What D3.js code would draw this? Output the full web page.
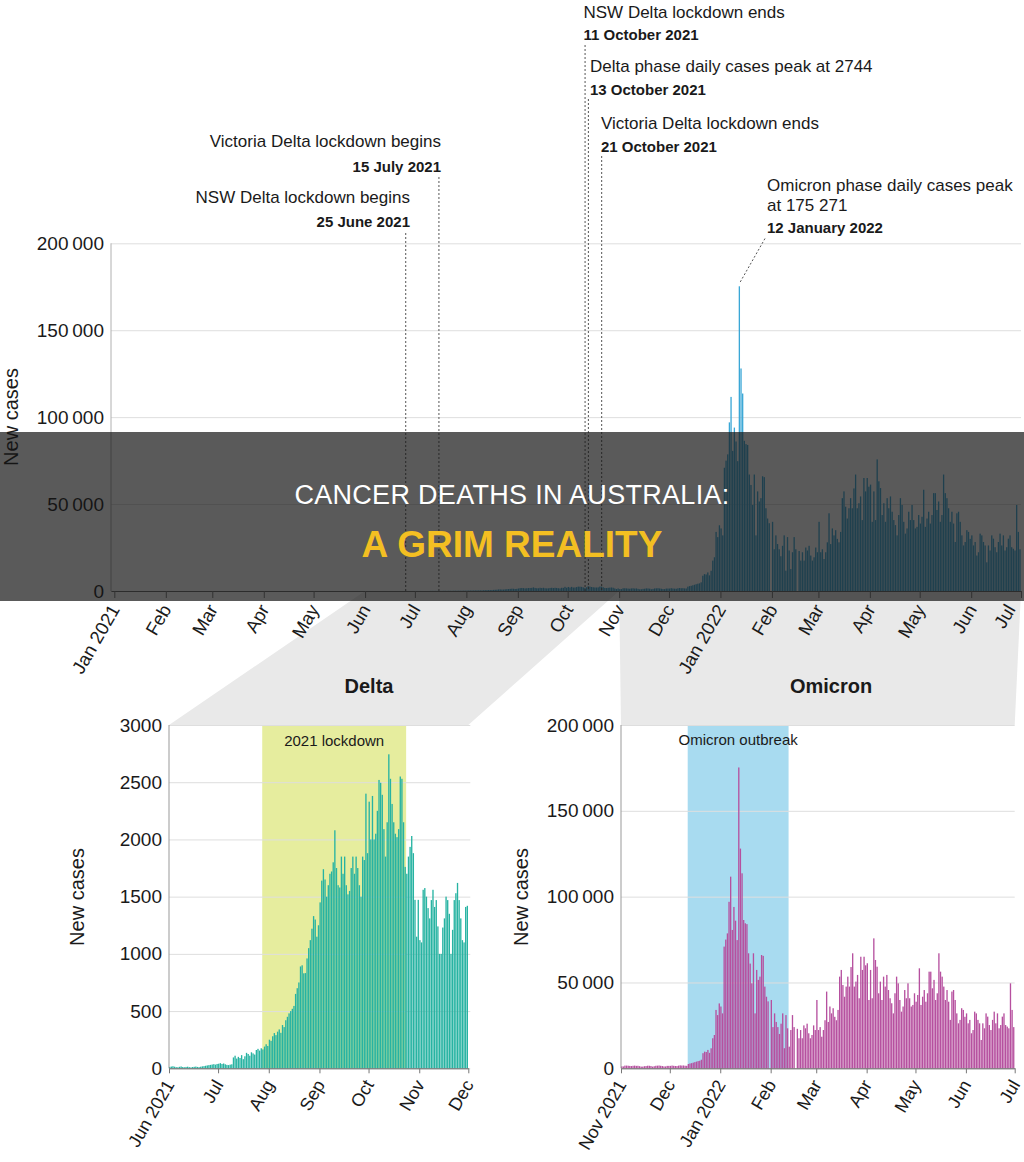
<!DOCTYPE html>
<html><head><meta charset="utf-8">
<script src="https://cdn.jsdelivr.net/npm/d3@7"></script>
<style>
body{margin:0;background:#fff}
svg{display:block}
text{font-family:"Liberation Sans",Arial,Helvetica,sans-serif}
</style>
</head><body>
<svg id="chart" width="1024" height="1162"></svg>
<script>
// ---------------- DATA ----------------
const seriesStart = "2021-01-01";
// Daily new cases, 1 Jan 2021 - 31 May 2021
const casesJanMay2021 = [
 12,9,14,8,6,10,7,9,11,5,8,6,10,7,5,9,6,8,4,7,5,6,8,4,6,5,7,3,6,5,4,
 6,4,7,5,9,6,4,5,3,6,8,12,9,7,5,6,4,5,7,3,6,4,5,8,6,4,3,5,
 6,5,7,4,9,6,8,5,7,10,6,8,12,9,7,11,8,10,13,9,7,11,14,10,12,9,15,11,13,17,12,
 10,14,9,12,8,11,13,9,7,10,12,8,6,9,11,7,10,13,8,6,9,11,14,10,7,9,12,8,10,13,
 9,11,7,10,13,8,12,9,6,11,14,10,8,12,9,7,10,13,11,8,6,9,12,15,18,14,22,16,20,13,17
];
// Daily new cases, 1 Jun 2021 - 30 Nov 2021 (Delta)
const casesDelta = [
 12,15,18,14,10,9,13,16,11,9,12,14,10,8,11,13,15,12,10,14,17,19,22,25,28,30,33,36,32,38,
 40,45,38,42,35,30,28,32,35,95,110,85,100,90,115,80,105,135,125,110,140,130,120,160,170,155,175,165,190,210,195,
 250,240,280,308,290,320,340,310,378,360,420,450,480,500,520,545,650,700,750,890,900,830,832,960,1050,1120,1220,1330,1300,1150,1250,
 1450,1640,1740,1650,1500,1600,1700,1720,1800,2080,1750,1600,1580,1850,1700,1850,1600,1520,1550,1750,1850,1700,1850,1750,1600,1500,1850,1820,2400,1880,
 2330,2000,2380,2000,2050,2250,2520,2495,2390,2090,1850,2150,2744,2530,2310,2150,2050,2020,2090,2550,2530,2150,1760,1700,1850,1935,2030,1880,1472,1150,1472,
 1120,1100,1560,1575,1500,1400,1310,1470,1560,1410,1470,1240,1000,1000,1230,1310,1500,1470,1350,1000,1210,1470,1530,1620,1470,1310,1120,1100,1410,1420
];
// Daily new cases, 1 Dec 2021 - 30 Jun 2022 (Omicron)
const casesOmicron = [
 1420,1600,1450,1350,1300,1550,1700,1600,1650,1500,1450,2500,2800,3000,3300,3600,3900,4200,4400,5000,8800,9700,9500,10700,9000,11650,17500,19400,34000,31000,37800,
 36000,32000,70900,75000,78600,97000,111650,80600,94000,86000,74700,175271,128000,113600,86400,84500,84000,67000,61000,49500,67000,32000,57300,51500,53400,66000,65500,47600,41700,39000,0,
 39800,24000,32000,27000,24000,20000,26000,32000,11700,31000,23300,12600,22300,31000,24000,0,23000,17500,22300,17500,25000,23300,26000,20400,17500,19400,25000,22300,
 39800,22300,24000,18400,22300,28000,44700,27000,36000,32000,35000,30000,28000,34000,53400,57300,48500,41700,47600,53400,47600,59000,67000,47600,50500,54400,40800,65000,57300,65000,60000,
 61200,39800,57300,40800,75700,63100,59200,43700,50500,39800,53400,47600,54400,45600,40800,37900,32000,43700,53400,49500,39800,33000,36000,45600,40800,49500,40800,36000,36900,43700,
 38800,42700,58250,36900,41700,45600,38800,43700,56300,56300,46600,51500,39800,43700,67000,56300,53400,47600,39800,45600,38800,28200,44700,45600,39800,32000,26200,28200,35000,34000,30000,
 32000,26200,28200,20400,22300,33000,32000,28200,26200,16500,26200,23300,32000,30100,25200,22300,28200,33000,26200,32000,23300,25200,30100,32000,25200,24300,23300,49500,34000,24000
];

const mainTickLabels = ["Jan 2021","Feb","Mar","Apr","May","Jun","Jul","Aug","Sep","Oct","Nov","Dec","Jan 2022","Feb","Mar","Apr","May","Jun","Jul"];
const deltaTickLabels = ["Jun 2021","Jul","Aug","Sep","Oct","Nov","Dec"];
const omicronTickLabels = ["Nov 2021","Dec","Jan 2022","Feb","Mar","Apr","May","Jun","Jul"];

const mainYTicks = [0,50000,100000,150000,200000];
const mainYTickLabels = ["0","50\u2009000","100\u2009000","150\u2009000","200\u2009000"];
const deltaYTicks = [0,500,1000,1500,2000,2500,3000];
const deltaYTickLabels = ["0","500","1000","1500","2000","2500","3000"];
const omicronYTicks = [0,50000,100000,150000,200000];
const omicronYTickLabels = ["0","50\u2009000","100\u2009000","150\u2009000","200\u2009000"];

const eventDates = ["2021-06-25","2021-07-15","2021-10-11","2021-10-13","2021-10-21","2022-01-12"];
const eventTitles = [
 ["NSW Delta lockdown begins"],
 ["Victoria Delta lockdown begins"],
 ["NSW Delta lockdown ends"],
 ["Delta phase daily cases peak at 2744"],
 ["Victoria Delta lockdown ends"],
 ["Omicron phase daily cases peak","at 175 271"]
];
const eventDateLabels = ["25 June 2021","15 July 2021","11 October 2021","13 October 2021","21 October 2021","12 January 2022"];

const panelTitles = ["Delta","Omicron"];
const deltaBand = ["2021-07-28","2021-10-24"];
const deltaBandLabel = "2021 lockdown";
const omicronBand = ["2021-12-12","2022-02-12"];
const omicronBandLabel = "Omicron outbreak";
const yAxisTitle = "New cases";
const bannerLines = ["CANCER DEATHS IN AUSTRALIA:","A GRIM REALITY"];

// ---------------- LAYOUT ----------------
const parse = d3.utcParse("%Y-%m-%d");
const start = parse(seriesStart);
const allCases = casesJanMay2021.concat(casesDelta, casesOmicron);
const series = allCases.map((v,i)=>({date:d3.utcDay.offset(start,i), value:v}));

const svg = d3.select("#chart");
const FS_TICK = 19;

const M = {x0:111, x1:1021, y0:591, y1:243.3};
const D = {x0:169, x1:468.3, y0:1068.3, y1:725};
const O = {x0:621, x1:1014.7, y0:1068.3, y1:725};

const xMain = d3.scaleUtc().domain([parse("2020-12-30"), parse("2022-07-01")]).range([M.x0, M.x1]);
const yMain = d3.scaleLinear().domain([0,200000]).range([M.y0, M.y1]);
const xDel = d3.scaleUtc().domain([parse("2021-06-01"), parse("2021-12-01")]).range([D.x0, D.x1]);
const yDel = d3.scaleLinear().domain([0,3000]).range([D.y0, D.y1]);
const xOmi = d3.scaleUtc().domain([parse("2021-11-01"), parse("2022-07-01")]).range([O.x0, O.x1]);
const yOmi = d3.scaleLinear().domain([0,200000]).range([O.y0, O.y1]);

// ---- zoom connectors (behind everything) ----
const conn = svg.append("g");
conn.append("path").attr("fill","#e9e9e9").attr("d", d3.line()([
  [xMain(parse("2021-06-01")), M.y0], [xMain(parse("2021-11-01")), M.y0],
  [D.x1, D.y1], [D.x0, D.y1]]) + "Z");
conn.append("path").attr("fill","#e9e9e9").attr("d", d3.line()([
  [xMain(parse("2021-11-01")), M.y0], [xMain(parse("2022-07-01")), M.y0],
  [O.x1, O.y1], [O.x0, O.y1]]) + "Z");

function yAxisGrid(g, y, x0, x1, ticks, labels) {
  const a = g.append("g").attr("transform",`translate(${x0},0)`)
    .call(d3.axisLeft(y).tickValues(ticks).tickSize(-(x1-x0)).tickPadding(7)
      .tickFormat((d,i)=>labels[i]));
  a.select(".domain").remove();
  a.selectAll(".tick line").attr("stroke","#dedede");
  a.selectAll(".tick text").attr("font-size",FS_TICK).attr("fill","#1a1a1a");
  return a;
}
function xAxis(g, x, y0, labels, fs, tickLen, maxX) {
  const dom = x.domain();
  const dates = d3.utcMonth.range(d3.utcMonth.ceil(dom[0]), d3.utcDay.offset(dom[1],1));
  const a = g.append("g").attr("transform",`translate(0,${y0})`)
    .call(d3.axisBottom(x).tickValues(dates).tickSize(tickLen).tickSizeOuter(0)
      .tickFormat((d,i)=>labels[i]));
  a.select(".domain").attr("stroke","#666");
  a.selectAll(".tick line").attr("stroke","#777");
  a.selectAll(".tick text").attr("font-size",fs).attr("fill","#1a1a1a")
    .attr("text-anchor","end").attr("y",0).attr("dy","0.35em")
    .attr("transform",(d)=>{
      const shift = maxX ? Math.min(0, maxX - x(d) - 14) : 0;
      return `translate(${shift},${tickLen+8}) rotate(-60)`;
    });
  return a;
}
function yTitle(g, x, y) {
  g.append("text").attr("transform",`translate(${x},${y}) rotate(-90)`)
    .attr("text-anchor","middle").attr("dy","0.35em").attr("font-size",20)
    .attr("fill","#1a1a1a").text(yAxisTitle);
}
function bars(g, data, x, y, color, gap) {
  g.append("g").selectAll("rect").data(data).join("rect")
    .attr("x", d=>x(d.date))
    .attr("width", d=>Math.max(0.4, x(d3.utcDay.offset(d.date,1)) - x(d.date) - gap))
    .attr("y", d=>y(d.value))
    .attr("height", d=>y(0)-y(d.value))
    .attr("fill", color);
}

// ---------------- MAIN CHART ----------------
const gm = svg.append("g");
yAxisGrid(gm, yMain, M.x0, M.x1, mainYTicks, mainYTickLabels);
gm.append("line").attr("x1",M.x0).attr("x2",M.x0).attr("y1",M.y1).attr("y2",M.y0).attr("stroke","#b0b0b0");
yTitle(gm, 11, 417);

// event annotations
const annLayout = [
 {anchor:"end",   tx:410,   ys:[203], yd:227,   top:233},
 {anchor:"end",   tx:441,   ys:[147], yd:171.5, top:177},
 {anchor:"start", tx:583.5, ys:[18],  yd:40,    top:45},
 {anchor:"start", tx:590,   ys:[72],  yd:94.5,  top:99},
 {anchor:"start", tx:601,   ys:[129], yd:151.5, top:156},
 {anchor:"start", tx:767,   ys:[190.5,211], yd:233.3, top:238.5, leader:true}
];
const ga = svg.append("g");
eventDates.forEach((ds,i)=>{
  const L = annLayout[i];
  const ex = xMain(parse(ds)) + 0.8;
  if (L.leader) {
    const v = series.find(d=>+d.date===+parse(ds)).value;
    ga.append("line").attr("x1",765).attr("y1",L.top).attr("x2",ex).attr("y2",yMain(v)-3)
      .attr("stroke","#555").attr("stroke-dasharray","2,2");
  } else {
    ga.append("line").attr("x1",ex).attr("x2",ex).attr("y1",L.top).attr("y2",M.y0)
      .attr("stroke","#555").attr("stroke-dasharray","2,2");
  }
  eventTitles[i].forEach((t,j)=>{
    ga.append("text").attr("x",L.tx).attr("y",L.ys[j]).attr("text-anchor",L.anchor)
      .attr("font-size",17).attr("fill","#1a1a1a").text(t);
  });
  ga.append("text").attr("x",L.tx).attr("y",L.yd).attr("text-anchor",L.anchor)
    .attr("font-size",15).attr("font-weight","bold").attr("fill","#1a1a1a").text(eventDateLabels[i]);
});

bars(gm, series, xMain, yMain, "#3aa7d6", 0.35);
xAxis(gm, xMain, M.y0, mainTickLabels, 18.5, 7, 1024);

// ---------------- PANEL TITLES ----------------
svg.append("text").attr("x",369).attr("y",693).attr("text-anchor","middle")
  .attr("font-size",20).attr("font-weight","bold").attr("fill","#1a1a1a").text(panelTitles[0]);
svg.append("text").attr("x",831).attr("y",693).attr("text-anchor","middle")
  .attr("font-size",20).attr("font-weight","bold").attr("fill","#1a1a1a").text(panelTitles[1]);

// ---------------- DELTA ----------------
const gd = svg.append("g");
gd.append("rect").attr("x",D.x0).attr("y",D.y1).attr("width",D.x1-D.x0).attr("height",D.y0-D.y1).attr("fill","#fff");
gd.append("rect").attr("x",xDel(parse(deltaBand[0]))).attr("y",D.y1)
  .attr("width",xDel(parse(deltaBand[1]))-xDel(parse(deltaBand[0]))).attr("height",D.y0-D.y1)
  .attr("fill","#e6ed9e");
yAxisGrid(gd, yDel, D.x0, D.x1+2, deltaYTicks, deltaYTickLabels);
gd.append("text").attr("x",(xDel(parse(deltaBand[0]))+xDel(parse(deltaBand[1])))/2).attr("y",746)
  .attr("text-anchor","middle").attr("font-size",15).attr("fill","#1a1a1a").text(deltaBandLabel);
const delData = series.filter(d=>d.date>=parse("2021-06-01") && d.date<parse("2021-12-01"));
bars(gd, delData, xDel, yDel, "#27b3a2", 0.3);
gd.append("line").attr("x1",D.x0).attr("x2",D.x0).attr("y1",D.y1).attr("y2",D.y0).attr("stroke","#999");
xAxis(gd, xDel, D.y0, deltaTickLabels, 18, 5);
yTitle(gd, 77, 897);

// ---------------- OMICRON ----------------
const go = svg.append("g");
go.append("rect").attr("x",O.x0).attr("y",O.y1).attr("width",O.x1-O.x0).attr("height",O.y0-O.y1).attr("fill","#fff");
go.append("rect").attr("x",xOmi(parse(omicronBand[0]))).attr("y",O.y1)
  .attr("width",xOmi(parse(omicronBand[1]))-xOmi(parse(omicronBand[0]))).attr("height",O.y0-O.y1)
  .attr("fill","#a8dbf0");
yAxisGrid(go, yOmi, O.x0, O.x1, omicronYTicks, omicronYTickLabels);
go.append("text").attr("x",(xOmi(parse(omicronBand[0]))+xOmi(parse(omicronBand[1])))/2).attr("y",745)
  .attr("text-anchor","middle").attr("font-size",15).attr("fill","#1a1a1a").text(omicronBandLabel);
const omiData = series.filter(d=>d.date>=parse("2021-11-01") && d.date<parse("2022-07-01"));
bars(go, omiData, xOmi, yOmi, "#b6509f", 0.3);
go.append("line").attr("x1",O.x0).attr("x2",O.x0).attr("y1",O.y1).attr("y2",O.y0).attr("stroke","#999");
xAxis(go, xOmi, O.y0, omicronTickLabels, 18, 5);
yTitle(go, 521, 897);

// ---------------- BANNER OVERLAY ----------------
const gb = svg.append("g");
gb.append("rect").attr("x",0).attr("y",432).attr("width",1024).attr("height",169)
  .attr("fill","rgb(20,20,20)").attr("fill-opacity",0.7);
gb.append("text").attr("x",512).attr("y",504).attr("text-anchor","middle")
  .attr("font-size",27).attr("letter-spacing",0.3).attr("fill","#ffffff").text(bannerLines[0]);
gb.append("text").attr("x",512).attr("y",557).attr("text-anchor","middle")
  .attr("font-size",37).attr("font-weight","bold").attr("fill","#f3bf22").text(bannerLines[1]);
</script>
</body></html>
